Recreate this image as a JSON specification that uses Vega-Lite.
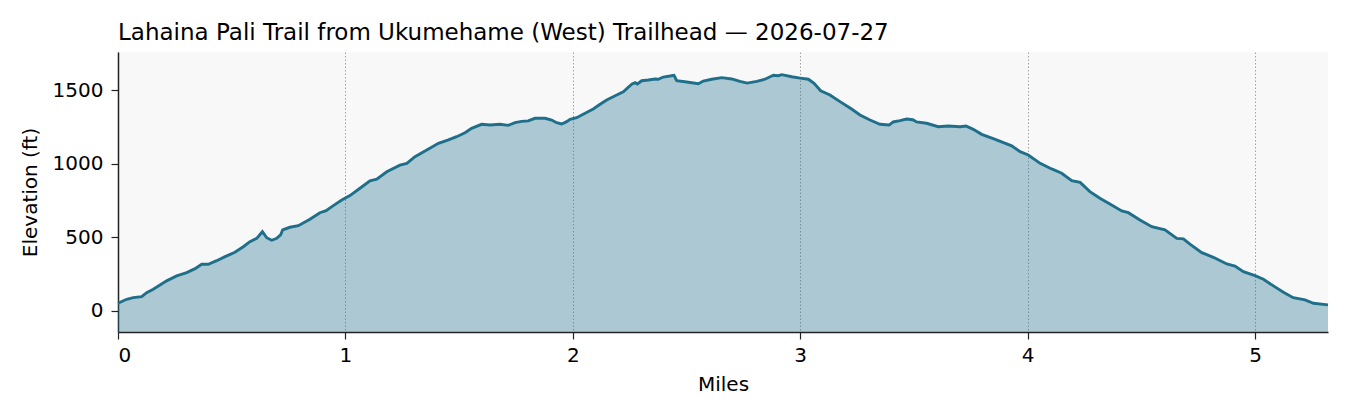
{
  "$schema": "https://vega.github.io/schema/vega-lite/v6.json",
  "width": 1210,
  "height": 280,
  "autosize": "none",
  "padding": {"left": 118, "top": 52, "right": 22, "bottom": 88},
  "background": "white",
  "title": {
    "text": "Lahaina Pali Trail from Ukumehame (West) Trailhead — 2026-07-27",
    "anchor": "start",
    "frame": "group",
    "font": "DejaVu Sans",
    "fontSize": 23,
    "fontWeight": "normal",
    "color": "#000000",
    "baseline": "alphabetic",
    "offset": 12,
    "dy": 23
  },
  "config": {
    "view": {"fill": "#f8f8f8", "stroke": null},
    "font": "DejaVu Sans"
  },
  "data": {
    "values": [
      {"miles": 0.000, "elev": 52}, {"miles": 0.038, "elev": 79}, {"miles": 0.067, "elev": 90},
      {"miles": 0.104, "elev": 97}, {"miles": 0.126, "elev": 124}, {"miles": 0.155, "elev": 147},
      {"miles": 0.214, "elev": 204}, {"miles": 0.258, "elev": 238}, {"miles": 0.302, "elev": 260},
      {"miles": 0.339, "elev": 287}, {"miles": 0.368, "elev": 317}, {"miles": 0.397, "elev": 317},
      {"miles": 0.434, "elev": 341}, {"miles": 0.471, "elev": 369}, {"miles": 0.514, "elev": 398},
      {"miles": 0.551, "elev": 436}, {"miles": 0.580, "elev": 470}, {"miles": 0.610, "elev": 493},
      {"miles": 0.635, "elev": 538}, {"miles": 0.654, "elev": 497}, {"miles": 0.676, "elev": 480},
      {"miles": 0.698, "elev": 493}, {"miles": 0.715, "elev": 516}, {"miles": 0.724, "elev": 550},
      {"miles": 0.756, "elev": 568}, {"miles": 0.793, "elev": 579}, {"miles": 0.844, "elev": 622},
      {"miles": 0.888, "elev": 667}, {"miles": 0.915, "elev": 681}, {"miles": 0.947, "elev": 715},
      {"miles": 0.984, "elev": 753}, {"miles": 1.020, "elev": 783}, {"miles": 1.064, "elev": 833},
      {"miles": 1.108, "elev": 884}, {"miles": 1.138, "elev": 894}, {"miles": 1.182, "elev": 945},
      {"miles": 1.240, "elev": 990}, {"miles": 1.270, "elev": 1002}, {"miles": 1.306, "elev": 1047},
      {"miles": 1.350, "elev": 1086}, {"miles": 1.379, "elev": 1111}, {"miles": 1.409, "elev": 1138},
      {"miles": 1.453, "elev": 1161}, {"miles": 1.489, "elev": 1183}, {"miles": 1.526, "elev": 1210},
      {"miles": 1.555, "elev": 1240}, {"miles": 1.599, "elev": 1267}, {"miles": 1.636, "elev": 1262},
      {"miles": 1.680, "elev": 1267}, {"miles": 1.716, "elev": 1260}, {"miles": 1.746, "elev": 1278},
      {"miles": 1.775, "elev": 1287}, {"miles": 1.804, "elev": 1290}, {"miles": 1.834, "elev": 1308},
      {"miles": 1.878, "elev": 1308}, {"miles": 1.907, "elev": 1296}, {"miles": 1.929, "elev": 1278},
      {"miles": 1.951, "elev": 1269}, {"miles": 1.973, "elev": 1285}, {"miles": 1.988, "elev": 1301},
      {"miles": 2.017, "elev": 1312}, {"miles": 2.054, "elev": 1342}, {"miles": 2.090, "elev": 1371},
      {"miles": 2.120, "elev": 1403}, {"miles": 2.149, "elev": 1432}, {"miles": 2.193, "elev": 1466},
      {"miles": 2.222, "elev": 1488}, {"miles": 2.259, "elev": 1539}, {"miles": 2.274, "elev": 1550},
      {"miles": 2.284, "elev": 1541}, {"miles": 2.303, "elev": 1563}, {"miles": 2.332, "elev": 1568},
      {"miles": 2.361, "elev": 1575}, {"miles": 2.376, "elev": 1573}, {"miles": 2.398, "elev": 1588},
      {"miles": 2.427, "elev": 1595}, {"miles": 2.445, "elev": 1600}, {"miles": 2.457, "elev": 1563},
      {"miles": 2.501, "elev": 1554}, {"miles": 2.552, "elev": 1543}, {"miles": 2.574, "elev": 1561},
      {"miles": 2.611, "elev": 1573}, {"miles": 2.655, "elev": 1584}, {"miles": 2.699, "elev": 1575},
      {"miles": 2.735, "elev": 1559}, {"miles": 2.767, "elev": 1547}, {"miles": 2.809, "elev": 1559},
      {"miles": 2.845, "elev": 1573}, {"miles": 2.882, "elev": 1600}, {"miles": 2.904, "elev": 1597},
      {"miles": 2.919, "elev": 1604}, {"miles": 2.963, "elev": 1590}, {"miles": 3.000, "elev": 1581},
      {"miles": 3.036, "elev": 1573}, {"miles": 3.061, "elev": 1545}, {"miles": 3.090, "elev": 1495},
      {"miles": 3.131, "elev": 1466}, {"miles": 3.175, "elev": 1421}, {"miles": 3.226, "elev": 1371},
      {"miles": 3.263, "elev": 1330}, {"miles": 3.307, "elev": 1296}, {"miles": 3.351, "elev": 1267},
      {"miles": 3.391, "elev": 1262}, {"miles": 3.409, "elev": 1283}, {"miles": 3.439, "elev": 1292},
      {"miles": 3.468, "elev": 1303}, {"miles": 3.495, "elev": 1298}, {"miles": 3.512, "elev": 1283},
      {"miles": 3.556, "elev": 1274}, {"miles": 3.607, "elev": 1251}, {"miles": 3.651, "elev": 1256},
      {"miles": 3.703, "elev": 1251}, {"miles": 3.729, "elev": 1256}, {"miles": 3.761, "elev": 1233},
      {"miles": 3.798, "elev": 1199}, {"miles": 3.849, "elev": 1170}, {"miles": 3.930, "elev": 1121},
      {"miles": 3.967, "elev": 1081}, {"miles": 4.003, "elev": 1059}, {"miles": 4.055, "elev": 1002},
      {"miles": 4.106, "elev": 964}, {"miles": 4.150, "elev": 935}, {"miles": 4.194, "elev": 884},
      {"miles": 4.231, "elev": 873}, {"miles": 4.274, "elev": 810}, {"miles": 4.318, "elev": 765},
      {"miles": 4.362, "elev": 726}, {"miles": 4.414, "elev": 679}, {"miles": 4.443, "elev": 667},
      {"miles": 4.494, "elev": 618}, {"miles": 4.546, "elev": 572}, {"miles": 4.604, "elev": 550},
      {"miles": 4.656, "elev": 493}, {"miles": 4.685, "elev": 489}, {"miles": 4.714, "elev": 453},
      {"miles": 4.766, "elev": 396}, {"miles": 4.817, "elev": 364}, {"miles": 4.876, "elev": 319},
      {"miles": 4.912, "elev": 305}, {"miles": 4.949, "elev": 267}, {"miles": 5.000, "elev": 240},
      {"miles": 5.037, "elev": 215}, {"miles": 5.081, "elev": 170}, {"miles": 5.125, "elev": 127},
      {"miles": 5.168, "elev": 90}, {"miles": 5.220, "elev": 75}, {"miles": 5.257, "elev": 52},
      {"miles": 5.321, "elev": 41}
    ]
  },
  "layer": [
    {
      "mark": {"type": "area", "color": "#1f6f8b", "opacity": 0.35},
      "encoding": {
        "x": {
          "field": "miles",
          "type": "quantitative",
          "scale": {"domain": [0, 5.321], "nice": false, "zero": false},
          "axis": {
            "title": "Miles",
            "values": [0, 1, 2, 3, 4, 5],
            "format": "d",
            "grid": true,
            "gridColor": "#8c8c8c",
            "gridDash": [1.5, 2],
            "gridWidth": 0.8,
            "domainColor": "#222222",
            "domainWidth": 1.5,
            "tickColor": "#222222",
            "tickSize": 7,
            "tickWidth": 1.2,
            "labelFont": "DejaVu Sans",
            "labelFontSize": 20,
            "labelColor": "#000000",
            "labelPadding": 6,
            "titleFont": "DejaVu Sans",
            "titleFontSize": 20,
            "titleFontWeight": "normal",
            "titleColor": "#000000",
            "titlePadding": 9
          }
        },
        "y": {
          "field": "elev",
          "type": "quantitative",
          "scale": {"domain": [-143, 1758], "nice": false, "zero": false},
          "axis": {
            "title": "Elevation (ft)",
            "values": [0, 500, 1000, 1500],
            "format": "d",
            "grid": false,
            "domainColor": "#222222",
            "domainWidth": 1.5,
            "tickColor": "#222222",
            "tickSize": 7,
            "tickWidth": 1.2,
            "labelFont": "DejaVu Sans",
            "labelFontSize": 20,
            "labelColor": "#000000",
            "labelPadding": 8,
            "titleFont": "DejaVu Sans",
            "titleFontSize": 20,
            "titleFontWeight": "normal",
            "titleColor": "#000000",
            "titlePadding": 12
          }
        },
        "y2": {"datum": -143}
      }
    },
    {
      "mark": {"type": "line", "color": "#1f6f8b", "strokeWidth": 2.9},
      "encoding": {
        "x": {"field": "miles", "type": "quantitative"},
        "y": {"field": "elev", "type": "quantitative"}
      }
    }
  ]
}
